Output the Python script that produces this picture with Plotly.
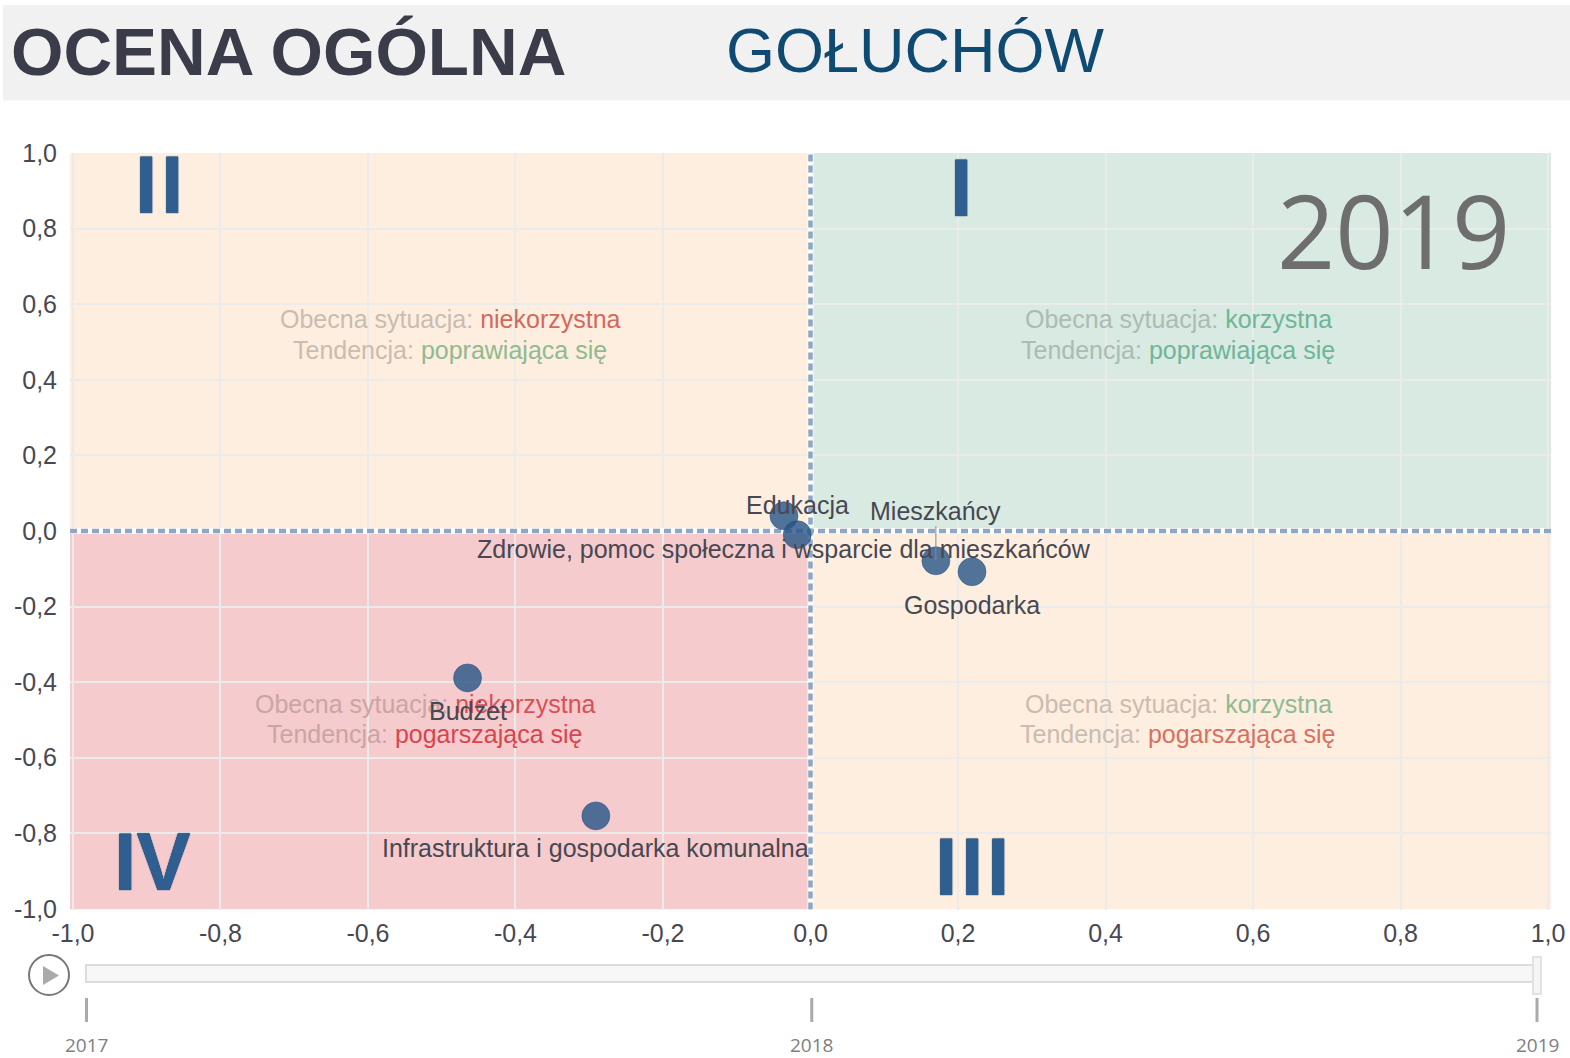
import plotly.graph_objects as go

W, H = 1570, 1058
names = ["Zdrowie, pomoc społeczna i wsparcie dla mieszkańców", "Edukacja", "Mieszkańcy", "Gospodarka", "Budżet", "Infrastruktura i gospodarka komunalna"]
x_vals = [-0.036, -0.018, 0.170, 0.219, -0.465, -0.291]
y_vals = [0.040, -0.010, -0.079, -0.108, -0.389, -0.754]
label_dy = [33, -30, -50, 33, 33, 32]
tick_vals = [-1.0, -0.8, -0.6, -0.4, -0.2, 0.0, 0.2, 0.4, 0.6, 0.8, 1.0]
tick_text = ["-1,0", "-0,8", "-0,6", "-0,4", "-0,2", "0,0", "0,2", "0,4", "0,6", "0,8", "1,0"]
years = [2017, 2018, 2019]

FONT = "Liberation Sans"
INK = "#474852"


def px(v):
    return v / W


def py(v):
    return 1 - v / H


def pair(lead, lead_col, word, word_col):
    return f'<span style="color:{lead_col}">{lead} </span><span style="color:{word_col}">{word}</span>'


fig = go.Figure(go.Scatter(
    x=x_vals, y=y_vals, mode="markers", cliponaxis=False, showlegend=False, hoverinfo="text", text=names,
    marker=dict(size=28, color="rgba(38,84,134,0.8)", line=dict(width=1, color="rgba(38,84,134,0.5)")),
))

shapes = [
    dict(type="rect", xref="paper", yref="paper", x0=px(3), x1=1, y0=py(5), y1=py(100.5), fillcolor="#f1f1f1", line_width=0, layer="below"),
]
for (a, b, c, d, col) in [(-1.004, 0, 0, 1, "#fdeee0"), (0, 1.004, 0, 1, "#d8eae2"), (-1.004, 0, -1.002, 0, "#f6cbcd"), (0, 1.004, -1.002, 0, "#fdeee0")]:
    shapes.append(dict(type="rect", xref="x", yref="y", x0=a, x1=b, y0=c, y1=d, fillcolor=col, line_width=0, layer="below"))
for dash, col, w in [("solid", "rgba(255,255,255,0.9)", 6), ("7px,4px", "#8ea7c3", 4.5)]:
    shapes.append(dict(type="line", xref="x", yref="y", x0=-1.004, x1=1.004, y0=0, y1=0, line=dict(color=col, width=w, dash=dash), layer="between"))
    shapes.append(dict(type="line", xref="x", yref="y", x0=0, x1=0, y0=-1.002, y1=1, line=dict(color=col, width=w, dash=dash), layer="between"))

# timeline
shapes.append(dict(type="rect", xref="paper", yref="paper", x0=px(86), x1=px(1534), y0=py(965), y1=py(982), fillcolor="#f7f7f7", line=dict(color="#dcdcdc", width=2)))
shapes.append(dict(type="rect", xref="paper", yref="paper", x0=px(1533), x1=px(1541), y0=py(957), y1=py(994), fillcolor="#f5f5f5", line=dict(color="#e2e2e2", width=2)))
shapes.append(dict(type="circle", xref="paper", yref="paper", x0=px(29), x1=px(69), y0=py(955), y1=py(995), fillcolor="white", line=dict(color="#777777", width=2)))
shapes.append(dict(type="path", xref="paper", yref="paper", path=f"M {px(43)} {py(966)} L {px(59)} {py(975.5)} L {px(43)} {py(985)} Z", fillcolor="#aaaaaa", line_width=0))

annotations = []
for yr in years:
    pos = 86.5 + (yr - years[0]) * (1537 - 86.5) / (years[-1] - years[0])
    shapes.append(dict(type="line", xref="paper", yref="paper", x0=px(pos), x1=px(pos), y0=py(998), y1=py(1022), line=dict(color="#aaaaaa", width=3)))
    annotations.append(dict(xref="paper", yref="paper", x=px(pos), y=py(1045), text=str(yr), showarrow=False, xanchor="center", yanchor="middle",
                            font=dict(family="Open Sans", size=19, color="#808080")))


def note(xp, yp, text, size, color=INK, family=FONT):
    annotations.append(dict(xref="paper", yref="paper", x=px(xp), y=py(yp), text=text, showarrow=False, xanchor="center", yanchor="middle",
                            font=dict(family=family, size=size, color=color)))


note(288, 51, "<b>OCENA OGÓLNA</b>", 67.4, "#3a3c4a")
note(915, 50, "GOŁUCHÓW", 63, "#0f4a72")
note(1393, 230, "2019", 102, "#6e6e6e", "Open Sans")

L1, L2 = "Obecna sytuacja:", "Tendencja:"
note(450, 319.5, pair(L1, "#c9bcb0", "niekorzystna", "#d2695c"), 25)
note(450, 350, pair(L2, "#c9bcb0", "poprawiająca się", "#90ba90"), 25)
note(1178, 319.5, pair(L1, "#a9bdb3", "korzystna", "#6fb598"), 25)
note(1178, 350, pair(L2, "#a9bdb3", "poprawiająca się", "#6fb598"), 25)
note(425, 703.5, pair(L1, "#c9a5a5", "niekorzystna", "#d9505a"), 25)
note(425, 734, pair(L2, "#c9a5a5", "pogarszająca się", "#d9444f"), 25)
note(1178, 703.5, pair(L1, "#c9bcb0", "korzystna", "#90ba90"), 25)
note(1178, 734, pair(L2, "#c9bcb0", "pogarszająca się", "#d9705f"), 25)

# Roman numerals
GAP = '<span style="letter-spacing:3.5px">I</span>'
for xp, yp, t in [(159, 185, GAP + "I"), (961, 188, "I"), (972, 867, GAP + GAP + "I"), (152.5, 862, "IV")]:
    annotations.append(dict(xref="paper", yref="paper", x=px(xp), y=py(yp), text=f"<b>{t}</b>", showarrow=False, xanchor="center", yanchor="middle",
                            font=dict(family=FONT, size=81, color="#2f5f90", shadow="0 0 1px #143c6a, 0 0 1px #143c6a")))

# point labels
for n, a, b, dy in zip(names, x_vals, y_vals, label_dy):
    d = dict(xref="x", yref="y", x=a, y=b, text=n, font=dict(family=FONT, size=25, color=INK), xanchor="center", yanchor="middle")
    if n == "Mieszkańcy":
        d.update(showarrow=True, arrowhead=0, arrowwidth=1, arrowcolor="#888888", ax=0, ay=dy, axref="pixel", ayref="pixel")
    else:
        d.update(showarrow=False, yshift=-dy)
    annotations.append(d)

fig.update_layout(
    width=W, height=H, autosize=False, margin=dict(l=0, r=0, t=0, b=0),
    paper_bgcolor="white", plot_bgcolor="white", showlegend=False,
    shapes=shapes, annotations=annotations,
    xaxis=dict(domain=[px(70), px(1551)], range=[-1.004, 1.004], tickvals=tick_vals, ticktext=tick_text, showgrid=True, gridcolor="#ebebeb", gridwidth=2,
               automargin=False, zeroline=False, showline=False, ticks="", tickfont=dict(family=FONT, size=25, color=INK), ticklabelstandoff=6),
    yaxis=dict(domain=[py(909.6), py(153)], range=[-1.002, 1.0], tickvals=tick_vals, ticktext=tick_text, showgrid=True, gridcolor="#ebebeb", gridwidth=2,
               automargin=False, zeroline=False, showline=False, ticks="", tickfont=dict(family=FONT, size=25, color=INK), ticklabelstandoff=12),
)

fig.write_html("out.html", config=dict(displayModeBar=False),
               post_script="document.body.style.margin='0';document.documentElement.style.overflow='hidden';")
